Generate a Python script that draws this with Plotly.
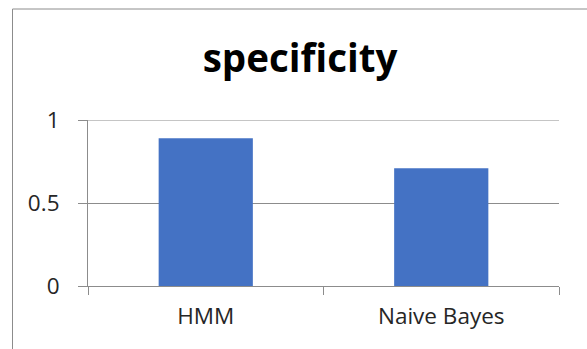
import plotly.graph_objects as go

categories = ["HMM", "Naive Bayes"]
specificity = [0.89, 0.71]
y_ticks = [0, 0.5, 1]
y_tick_labels = ["0", "0.5", "1"]

BAR_COLOR = "#4472C4"
GRID_COLOR = "#8C8C8C"
FONT = "Open Sans"
LABEL_SIZE = 22.5

fig = go.Figure(
    go.Bar(
        x=categories,
        y=specificity,
        marker=dict(color=BAR_COLOR, line=dict(width=0)),
        width=0.4,
    )
)

fig.update_layout(
    width=587,
    height=349,
    margin=dict(l=88, r=28, t=120, b=63),
    paper_bgcolor="white",
    plot_bgcolor="white",
    showlegend=False,
    font=dict(family=FONT, color="#262626", size=LABEL_SIZE),
    title=dict(
        text="<b>specificity</b>",
        x=300 / 587,
        xref="container",
        xanchor="center",
        y=1 - 59 / 349,
        yanchor="middle",
        font=dict(family=FONT, size=38.5, color="black"),
    ),
    xaxis=dict(
        type="category",
        range=[-0.5, 1.5],
        showline=True,
        linecolor=GRID_COLOR,
        linewidth=1,
        ticks="outside",
        tickson="boundaries",
        ticklen=8,
        tickcolor=GRID_COLOR,
        showgrid=False,
        ticklabelstandoff=10,
        tickfont=dict(family=FONT, size=LABEL_SIZE, color="#262626"),
    ),
    yaxis=dict(
        range=[0, 1],
        tickvals=y_ticks,
        ticktext=y_tick_labels,
        showline=True,
        linecolor=GRID_COLOR,
        linewidth=1,
        showgrid=True,
        gridcolor=GRID_COLOR,
        gridwidth=1,
        zeroline=False,
        ticks="outside",
        ticklen=9,
        tickcolor=GRID_COLOR,
        ticklabelstandoff=14,
        tickfont=dict(family=FONT, size=LABEL_SIZE, color="#262626"),
    ),
    shapes=[
        # outer chart frame
        dict(
            type="rect",
            xref="paper", yref="paper",
            x0=(12.5 - 88) / 471, x1=(600 - 88) / 471,
            y0=(63 - 360) / 166, y1=1 + (120 - 9) / 166,
            line=dict(color=GRID_COLOR, width=1),
            fillcolor="rgba(0,0,0,0)",
            layer="below",
        ),
        # gridline at the top of the value axis
        dict(
            type="line",
            xref="paper", yref="y",
            x0=0, x1=1, y0=y_ticks[-1], y1=y_ticks[-1],
            line=dict(color=GRID_COLOR, width=1),
            layer="below",
        ),
    ],
)

fig.write_html("out.html")
